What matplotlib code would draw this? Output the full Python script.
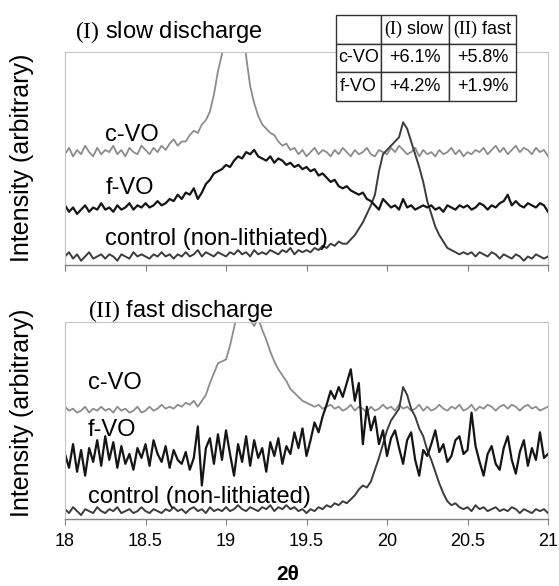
import numpy as np
import matplotlib
matplotlib.use("Agg")
import matplotlib.pyplot as plt

plt.rcParams['font.family'] = ['Liberation Sans', 'DejaVu Sans']
plt.rcParams['mathtext.fontset'] = 'custom'
plt.rcParams['mathtext.rm'] = 'Liberation Serif'

# 2theta scan, 0.025 deg step from 18 to 21 (121 points)
two_theta = np.linspace(18.0, 21.0, 121)

# (I) slow discharge, arbitrary intensity (offset traces)
slow_cvo = [52, 55, 51, 54, 52, 56, 53, 51, 55, 52,
            54, 53, 56, 52, 54, 51, 55, 53, 52, 56,
            54, 52, 55, 53, 56, 54, 57, 59, 56, 58,
            58, 61, 63, 62, 66, 68, 72, 80, 91, 99,
            118, 132, 140, 136, 118, 98, 84, 76, 70, 66,
            64, 62, 61, 58, 56, 57, 54, 55, 52, 54,
            51, 53, 55, 52, 54, 53, 51, 54, 52, 55,
            53, 51, 54, 52, 53, 55, 52, 51, 54, 53,
            52, 55, 53, 56, 54, 52, 53, 55, 51, 54,
            52, 53, 51, 54, 52, 53, 55, 52, 54, 51,
            53, 52, 54, 53, 55, 52, 54, 56, 53, 55,
            52, 54, 56, 53, 55, 54, 52, 55, 53, 54,
            51]
slow_fvo = [28, 25, 27, 24, 26, 28, 25, 27, 26, 29,
            26, 27, 25, 28, 26, 27, 29, 26, 28, 27,
            29, 27, 28, 30, 28, 29, 31, 30, 33, 31,
            34, 33, 36, 31, 34, 38, 40, 43, 44, 45,
            47, 46, 49, 51, 50, 53, 52, 54, 51, 50,
            49, 51, 48, 50, 49, 47, 48, 46, 47, 45,
            46, 44, 45, 42, 43, 41, 39, 40, 37, 36,
            37, 35, 34, 33, 34, 31, 30, 28, 26, 31,
            29, 27, 28, 26, 31, 27, 28, 26, 27, 28,
            27, 28, 26, 27, 25, 28, 27, 26, 28, 27,
            28, 26, 27, 29, 28, 26, 28, 27, 29, 30,
            33, 28, 30, 28, 27, 29, 28, 27, 29, 28,
            25]
slow_ctrl = [4, 6, 3, 5, 2, 4, 6, 3, 4, 5,
             3, 5, 4, 2, 5, 4, 3, 6, 4, 5,
             4, 3, 5, 4, 6, 4, 5, 3, 5, 4,
             6, 4, 5, 7, 4, 6, 5, 4, 6, 5,
             4, 6, 5, 7, 5, 6, 4, 7, 5, 6,
             5, 7, 6, 5, 7, 6, 8, 5, 7, 6,
             7, 6, 8, 7, 9, 8, 10, 9, 11, 10,
             10, 12, 14, 17, 20, 24, 28, 33, 44, 52,
             54, 56, 58, 60, 67, 64, 58, 52, 46, 39,
             30, 24, 18, 14, 11, 8, 7, 6, 5, 6,
             5, 6, 4, 6, 5, 4, 6, 5, 3, 5,
             4, 3, 5, 4, 2, 4, 3, 5, 4, 3,
             4]

# (II) fast discharge
fast_cvo = [57, 55, 56, 54, 55, 57, 54, 56, 55, 57,
            55, 56, 54, 57, 55, 56, 54, 55, 57, 54,
            55, 57, 55, 56, 58, 56, 57, 56, 58, 57,
            59, 58, 60, 57, 60, 63, 69, 74, 79, 80,
            81, 88, 97, 106, 112, 108, 101, 98, 102, 96,
            91, 85, 80, 76, 73, 70, 66, 64, 62, 60,
            59, 58, 57, 58, 56, 57, 58, 56, 57, 55,
            56, 58, 55, 57, 56, 54, 57, 55, 56, 58,
            56, 57, 55, 58, 56, 57, 55, 56, 58, 55,
            57, 55, 56, 58, 56, 55, 57, 56, 58, 55,
            56, 58, 55, 57, 56, 58, 57, 55, 57, 58,
            56, 58, 57, 55, 57, 58, 56, 57, 55, 56,
            57]
fast_fvo = [33, 26, 38, 24, 35, 22, 36, 29, 40, 27,
            42, 30, 39, 26, 37, 28, 33, 25, 36, 31,
            38, 27, 40, 33, 29, 37, 26, 35, 30, 28,
            34, 25, 31, 47, 17, 36, 41, 28, 43, 30,
            45, 33, 22, 38, 29, 42, 27, 40, 31, 36,
            24, 39, 32, 41, 28, 37, 33, 44, 36, 46,
            32, 40, 49, 44, 52, 58, 65, 61, 67, 62,
            69, 76, 60, 69, 38, 57, 45, 52, 38, 45,
            32, 41, 45, 36, 28, 40, 44, 30, 22, 35,
            32, 38, 45, 34, 38, 29, 32, 40, 42, 33,
            35, 54, 37, 29, 22, 33, 37, 28, 25, 36,
            42, 30, 23, 34, 40, 27, 36, 30, 44, 31,
            33]
fast_ctrl = [5, 3, 6, 4, 2, 5, 4, 3, 6, 4,
             3, 5, 4, 6, 3, 4, 5, 3, 4, 6,
             4, 3, 5, 4, 3, 5, 4, 6, 4, 5,
             3, 5, 6, 4, 5, 3, 6, 4, 5, 4,
             6, 4, 5, 7, 5, 4, 6, 5, 4, 6,
             5, 7, 4, 6, 5, 7, 5, 6, 4, 5,
             3, 5, 4, 6, 5, 7, 6, 8, 7, 9,
             8, 10, 12, 15, 17, 16, 19, 25, 31, 38,
             45, 50, 53, 56, 67, 63, 56, 52, 46, 42,
             35, 30, 24, 18, 13, 9, 7, 8, 6, 5,
             6, 4, 7, 5, 6, 4, 5, 6, 4, 5,
             4, 6, 5, 3, 5, 4, 3, 5, 4, 5,
             3]

# lattice expansion table
table_cols = ['', r'$\mathrm{(I)}$ slow', r'$\mathrm{(II)}$ fast']
table_rows = [['c-VO', '+6.1%', '+5.8%'],
              ['f-VO', '+4.2%', '+1.9%']]

cvo_color = '#8c8c8c'
fvo_color = '#151515'
ctrl_color = '#3c3c3c'

W, H = 559, 586
fig = plt.figure(figsize=(W / 100, H / 100), dpi=100)


def px_axes(left, top, right, bottom):
    return fig.add_axes([left / W, 1 - bottom / H, (right - left) / W, (bottom - top) / H])


ax1 = px_axes(65, 52, 548, 265)
ax2 = px_axes(65, 322, 548, 519)

panels = [
    (ax1, slow_cvo, slow_fvo, slow_ctrl, [(18.25, 61), (18.25, 36), (18.25, 12)]),
    (ax2, fast_cvo, fast_fvo, fast_ctrl, [(18.14, 69), (18.14, 45), (18.14, 11)]),
]

for ax, cvo, fvo, ctrl, lab_pos in panels:
    ax.plot(two_theta, cvo, color=cvo_color, lw=1.3)
    ax.plot(two_theta, ctrl, color=ctrl_color, lw=1.4)
    ax.plot(two_theta, fvo, color=fvo_color, lw=1.6)
    ax.set_xlim(18, 21)
    ax.set_ylim(0, 100)
    ax.set_yticks([])
    ax.set_xticks([18, 18.5, 19, 19.5, 20, 20.5, 21])
    ax.set_xticklabels(['18', '18.5', '19', '19.5', '20', '20.5', '21'])
    ax.tick_params(axis='x', direction='out', length=4, color='#808080',
                   labelsize=13, pad=6)
    for s in ['left', 'top', 'right']:
        ax.spines[s].set_color('#c4c4c4')
        ax.spines[s].set_linewidth(0.8)
    ax.spines['bottom'].set_color('#808080')
    ax.spines['bottom'].set_linewidth(1.0)
    for (tx, ty), name in zip(lab_pos, ['c-VO', 'f-VO', 'control (non-lithiated)']):
        ax.text(tx, ty, name, fontsize=17, va='center', ha='left')

ax1.tick_params(axis='x', labelbottom=False)

fig.text(75 / W, 1 - 32 / H, r'$\mathrm{(I)}$ slow discharge', fontsize=17, va='center')
fig.text(88 / W, 1 - 311 / H, r'$\mathrm{(II)}$ fast discharge', fontsize=17, va='center')

fig.text(22 / W, 1 - 158 / H, 'Intensity (arbitrary)', fontsize=18,
         rotation=90, va='center', ha='center')
fig.text(22 / W, 1 - 413 / H, 'Intensity (arbitrary)', fontsize=18,
         rotation=90, va='center', ha='center')
fig.text(288 / W, 1 - 575 / H, '2θ', fontsize=15, fontweight='bold',
         va='center', ha='center')

# inset table over the top panel
tax = px_axes(336, 15, 516, 101)
tax.axis('off')
tbl = tax.table(cellText=[table_cols] + table_rows, cellLoc='center',
                colWidths=[45, 68, 67], bbox=[0, 0, 1, 1])
tbl.auto_set_font_size(False)
for (r, c), cell in tbl.get_celld().items():
    cell.set_edgecolor('#333333')
    cell.set_linewidth(1.0)
    cell.get_text().set_fontsize(13)
    cell.PAD = 0.02

fig.savefig('out.png', dpi=100)
